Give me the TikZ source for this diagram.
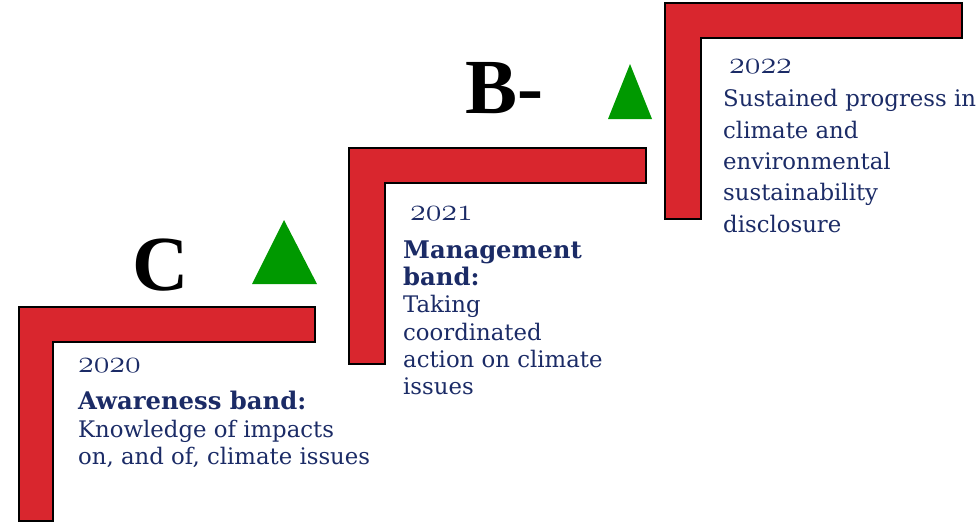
\RequirePackage{fix-cm}
\documentclass[tikz,border=0pt]{standalone}
\usepackage{fontspec}
\setmainfont{DejaVu Serif}
\newfontfamily\gradefont{Liberation Serif}
\newcommand\oldyear[1]{{\usefont{OML}{cmm}{m}{it}#1}}
\definecolor{stepred}{HTML}{D9262E}
\definecolor{navy}{HTML}{1B2B66}
\definecolor{upgreen}{HTML}{009900}
\tikzset{
  stair/.style={fill=stepred, draw=black, line width=1.8pt},
  txt/.style={anchor=base west, inner sep=0pt, text=navy, font=\fontsize{22.8}{26}\selectfont},
  boldtxt/.style={anchor=base west, inner sep=0pt, text=navy, font=\fontsize{24.3}{26}\selectfont\bfseries},
  yeartxt/.style={anchor=base west, inner sep=0pt, text=navy, font=\fontsize{32}{34}\selectfont},
  grade/.style={anchor=base west, inner sep=0pt, text=black, font=\gradefont\bfseries\fontsize{78}{80}\selectfont},
  upmark/.style={fill=upgreen, draw=none}
}
\begin{document}
\begin{tikzpicture}[x=1pt,y=-1pt]
\useasboundingbox (0,0) rectangle (978,523);
% stairs
\draw[stair] (19,307) -- (315,307) -- (315,342) -- (53,342) -- (53,521) -- (19,521) -- cycle;
\draw[stair] (349,148) -- (646,148) -- (646,183) -- (385,183) -- (385,364) -- (349,364) -- cycle;
\draw[stair] (665,3) -- (962,3) -- (962,38) -- (701,38) -- (701,219) -- (665,219) -- cycle;
% up triangles
\fill[upmark] (252,284) -- (284,220) -- (317,284) -- cycle;
\fill[upmark] (608,119) -- (630,64) -- (652,119) -- cycle;
% grades
\node[grade] (gC) at (132,290) {C};
\node[grade] (gB) at (465,113) {B-};
% block 2020
\node[yeartxt] (y1) at (78,372) {\oldyear{2020}};
\node[boldtxt] (a1) at (78,409) {Awareness band:};
\node[txt] (a2) at (78,437) {Knowledge of impacts};
\node[txt] (a3) at (78,464) {on, and of, climate issues};
% block 2021
\node[yeartxt] (y2) at (410,220) {\oldyear{2021}};
\node[boldtxt] (b1) at (403,258) {Management};
\node[boldtxt] (b2) at (403,285) {band:};
\node[txt] (b3) at (403,312) {Taking};
\node[txt] (b4) at (403,340) {coordinated};
\node[txt] (b5) at (403,367) {action on climate};
\node[txt] (b6) at (403,394) {issues};
% block 2022
\node[yeartxt] (y3) at (729,73) {\oldyear{2022}};
\node[txt] (c1) at (723,106) {Sustained progress in};
\node[txt] (c2) at (723,138) {climate and};
\node[txt] (c3) at (723,169) {environmental};
\node[txt] (c4) at (723,200) {sustainability};
\node[txt] (c5) at (723,232) {disclosure};
\end{tikzpicture}
\end{document}
